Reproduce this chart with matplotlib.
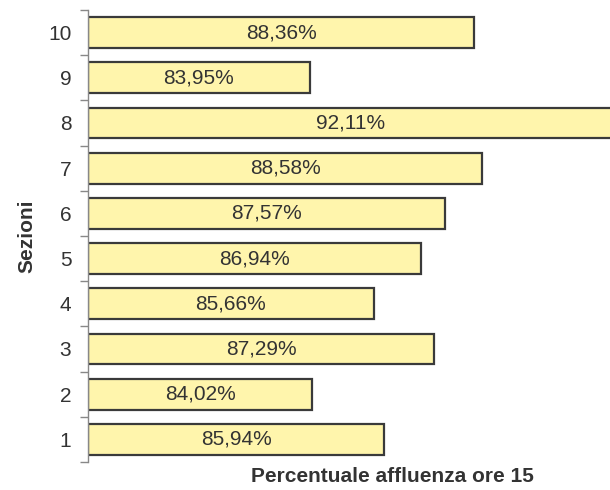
import matplotlib.pyplot as plt
import numpy as np

plt.rcParams['font.family'] = ['Liberation Sans', 'DejaVu Sans']

sezioni = [1, 2, 3, 4, 5, 6, 7, 8, 9, 10]
affluenza = [85.94, 84.02, 87.29, 85.66, 86.94, 87.57, 88.58, 92.11, 83.95, 88.36]
etichette = ["85,94%", "84,02%", "87,29%", "85,66%", "86,94%",
             "87,57%", "88,58%", "92,11%", "83,95%", "88,36%"]

x0 = 78
fig = plt.figure(figsize=(6.1, 4.9), dpi=100)
ax = fig.add_axes([88 / 610, 1 - 462 / 490, 1 - 88 / 610, 452 / 490])

vals = np.array(affluenza)
ax.barh(sezioni, vals - x0, left=x0, height=0.68, color="#fff5ac",
        edgecolor="#3a3a3a", linewidth=1.6, clip_on=True)

for s, v, t in zip(sezioni, vals, etichette):
    ax.text((x0 + v) / 2, s, t, ha="center", va="center",
            fontsize=15, color="#333333")

ax.set_xlim(x0, 92)
ax.set_ylim(0.5, 10.5)

# ticks at the category boundaries, labels in the middle
ax.set_yticks(np.arange(0.5, 11, 1))
ax.set_yticklabels([])
ax.set_yticks(sezioni, minor=True)
ax.set_yticklabels([str(s) for s in sezioni], minor=True, fontsize=15, color="#333333")
ax.tick_params(axis="y", which="major", length=6, width=1, color="#888888", direction="out")
ax.tick_params(axis="y", which="minor", length=0, pad=12)
ax.set_xticks([])

for side in ["top", "right", "bottom"]:
    ax.spines[side].set_visible(False)
ax.spines["left"].set_color("#888888")
ax.spines["left"].set_linewidth(1)

ax.set_ylabel("Sezioni", fontsize=15, fontweight="bold", color="#333333", labelpad=8)
ax.set_xlabel("Percentuale affluenza ore 15", fontsize=15, fontweight="bold",
              color="#333333")
ax.xaxis.set_label_coords(0.584, -0.012, transform=ax.transAxes)
ax.xaxis.label.set_va("top")

plt.savefig("out.png")
